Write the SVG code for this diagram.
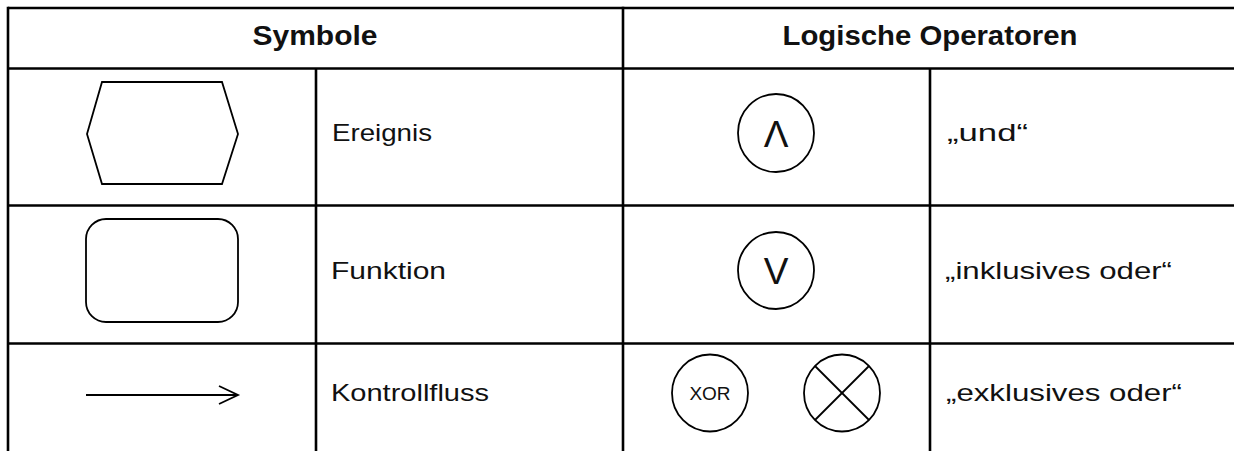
<svg xmlns="http://www.w3.org/2000/svg" width="1234" height="451" viewBox="0 0 1234 451">
<style>
.grid{stroke:#000;stroke-width:2.6;fill:none}
.shape{stroke:#000;stroke-width:1.8;fill:none}
.hd{font-family:"Liberation Sans",Arial,sans-serif;font-weight:bold;font-size:27px;fill:#111;text-anchor:middle}
.lbl{font-family:"Liberation Sans",Arial,sans-serif;font-size:24px;fill:#111}
.sym{font-family:"Liberation Sans",Arial,sans-serif;font-size:37px;fill:#111;text-anchor:middle}
.xor{font-family:"Liberation Sans",Arial,sans-serif;font-size:19px;fill:#111;text-anchor:middle}
</style>
<rect width="1234" height="451" fill="#fff"/>
<g id="table">
<line class="grid" x1="8" y1="8" x2="1234" y2="8"/>
<line class="grid" x1="8" y1="68.5" x2="1234" y2="68.5"/>
<line class="grid" x1="8" y1="205.5" x2="1234" y2="205.5"/>
<line class="grid" x1="8" y1="343.5" x2="1234" y2="343.5"/>
<line class="grid" x1="8" y1="6.7" x2="8" y2="451"/>
<line class="grid" x1="316" y1="68.5" x2="316" y2="451"/>
<line class="grid" x1="623" y1="6.7" x2="623" y2="451"/>
<line class="grid" x1="930" y1="68.5" x2="930" y2="451"/>
</g>
<g id="headers">
<text class="hd" x="315" y="45" textLength="125" lengthAdjust="spacingAndGlyphs">Symbole</text>
<text class="hd" x="930" y="45" textLength="295" lengthAdjust="spacingAndGlyphs">Logische Operatoren</text>
</g>
<g id="ereignis">
<polygon class="shape" points="102,82 222,82 238,134 222,184 102,184 87,134"/>
<text class="lbl" x="332" y="141" textLength="100" lengthAdjust="spacingAndGlyphs">Ereignis</text>
</g>
<g id="funktion">
<rect class="shape" x="86" y="219" width="152" height="103" rx="20" ry="20"/>
<text class="lbl" x="331" y="279" textLength="115" lengthAdjust="spacingAndGlyphs">Funktion</text>
</g>
<g id="kontrollfluss">
<line class="shape" x1="86" y1="395" x2="238" y2="395"/>
<polyline class="shape" points="219,386 238,395 219,404"/>
<text class="lbl" x="331" y="401" textLength="158" lengthAdjust="spacingAndGlyphs">Kontrollfluss</text>
</g>
<g id="und">
<ellipse class="shape" cx="776" cy="133" rx="38" ry="39"/>
<text class="sym" x="776" y="147">Λ</text>
<text class="lbl" x="947" y="141" textLength="81" lengthAdjust="spacingAndGlyphs">„und“</text>
</g>
<g id="oder">
<ellipse class="shape" cx="776" cy="270.5" rx="38" ry="38.5"/>
<text class="sym" x="776" y="284">V</text>
<text class="lbl" x="945" y="279" textLength="227" lengthAdjust="spacingAndGlyphs">„inklusives oder“</text>
</g>
<g id="xor">
<ellipse class="shape" cx="710" cy="393" rx="38" ry="38.5"/>
<text class="xor" x="710" y="400">XOR</text>
<ellipse class="shape" cx="842" cy="393" rx="38" ry="38.5"/>
<line class="shape" x1="815" y1="366" x2="869" y2="420"/>
<line class="shape" x1="869" y1="366" x2="815" y2="420"/>
<text class="lbl" x="946" y="401" textLength="236" lengthAdjust="spacingAndGlyphs">„exklusives oder“</text>
</g>
</svg>
